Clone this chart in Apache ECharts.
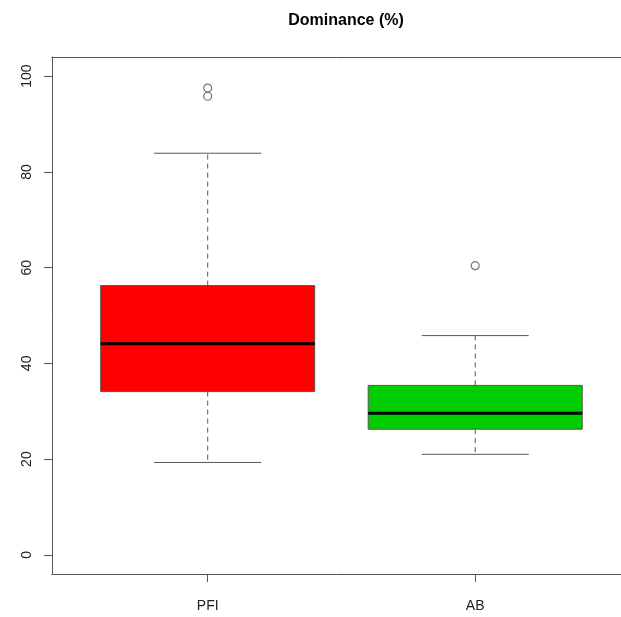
<!DOCTYPE html>
<html>
<head>
<meta charset="utf-8">
<script src="https://cdn.jsdelivr.net/npm/echarts@6/dist/echarts.min.js"></script>
<style>html,body{margin:0;padding:0;background:#fff;}#c{width:621px;height:617px;}</style>
</head>
<body>
<div id="c"></div>
<script>
const categories = ['PFI', 'AB'];
const lowWhisker = [19.3, 21.0];
const q1 = [34.1, 26.25];
const median = [44.1, 29.6];
const q3 = [56.25, 35.4];
const highWhisker = [83.9, 45.8];
const outliersPFI = [97.5, 95.8];
const outliersAB = [60.4];
const yTicks = [0, 20, 40, 60, 80, 100];
const boxColors = ['#FF0000', '#00CD00'];

const boxData = categories.map((c, i) => [i + 1, lowWhisker[i], q1[i], median[i], q3[i], highWhisker[i]]);
const outlierData = [];
outliersPFI.forEach(v => outlierData.push([1, v]));
outliersAB.forEach(v => outlierData.push([2, v]));

const FONT = '"Liberation Sans", Arial, sans-serif';
const edge = '#555';
const X_MIN = 0.418, X_MAX = 2.545;

const chart = echarts.init(document.getElementById('c'), null, {renderer: 'canvas'});
chart.setOption({
  animation: false,
  backgroundColor: '#fff',
  title: {
    text: 'Dominance (%)', left: 341, top: 8, textAlign: 'center',
    textStyle: {fontFamily: FONT, fontSize: 16, fontWeight: 'bold', color: '#000'}
  },
  grid: {left: 52, right: 0, top: 57, bottom: 43, show: false},
  xAxis: [{
    type: 'value', min: X_MIN, max: X_MAX, position: 'bottom',
    splitLine: {show: false},
    axisLine: {show: true, onZero: false, lineStyle: {color: edge}},
    axisTick: {show: true, customValues: [1, 2], length: 8, lineStyle: {color: edge}},
    axisLabel: {customValues: [1, 2], formatter: v => categories[Math.round(v) - 1], fontFamily: FONT, fontSize: 14, color: '#222', margin: 25}
  }, {
    type: 'value', min: X_MIN, max: X_MAX, position: 'top',
    splitLine: {show: false},
    axisLine: {show: true, onZero: false, lineStyle: {color: edge}},
    axisTick: {show: false},
    axisLabel: {show: false}
  }],
  yAxis: {
    type: 'value', min: -4, max: 104,
    splitLine: {show: false},
    axisLine: {show: true, onZero: false, lineStyle: {color: edge}},
    axisTick: {show: true, customValues: yTicks, length: 8, lineStyle: {color: edge}},
    axisLabel: {customValues: yTicks, rotate: 90, fontFamily: FONT, fontSize: 14, color: '#222', margin: 18}
  },
  series: [
    {
      type: 'custom',
      xAxisIndex: 0,
      data: boxData,
      renderItem: function (params, api) {
        const x = api.value(0);
        const idx = params.dataIndex;
        const lo = api.coord([x, api.value(1)]);
        const b1 = api.coord([x, api.value(2)]);
        const md = api.coord([x, api.value(3)]);
        const b3 = api.coord([x, api.value(4)]);
        const hi = api.coord([x, api.value(5)]);
        const bl = api.coord([x - 0.4, 0])[0];
        const br = api.coord([x + 0.4, 0])[0];
        const cl = api.coord([x - 0.2, 0])[0];
        const cr = api.coord([x + 0.2, 0])[0];
        const cx = lo[0];
        const dash = {stroke: edge, lineWidth: 1, lineDash: [5, 4]};
        const solid = {stroke: edge, lineWidth: 1};
        return {
          type: 'group',
          children: [
            {type: 'line', shape: {x1: cx, y1: b3[1], x2: cx, y2: hi[1]}, style: dash},
            {type: 'line', shape: {x1: cx, y1: b1[1], x2: cx, y2: lo[1]}, style: dash},
            {type: 'line', shape: {x1: cl, y1: hi[1], x2: cr, y2: hi[1]}, style: solid},
            {type: 'line', shape: {x1: cl, y1: lo[1], x2: cr, y2: lo[1]}, style: solid},
            {type: 'rect', shape: {x: bl, y: b3[1], width: br - bl, height: b1[1] - b3[1]}, style: {fill: boxColors[idx], stroke: edge, lineWidth: 1}},
            {type: 'line', shape: {x1: bl, y1: md[1], x2: br, y2: md[1]}, style: {stroke: '#000', lineWidth: 3}}
          ]
        };
      }
    },
    {
      type: 'scatter',
      xAxisIndex: 0,
      data: outlierData,
      symbol: 'circle',
      symbolSize: 8,
      itemStyle: {color: 'rgba(0,0,0,0)', borderColor: edge, borderWidth: 1.2}
    }
  ]
});
</script>
</body>
</html>
